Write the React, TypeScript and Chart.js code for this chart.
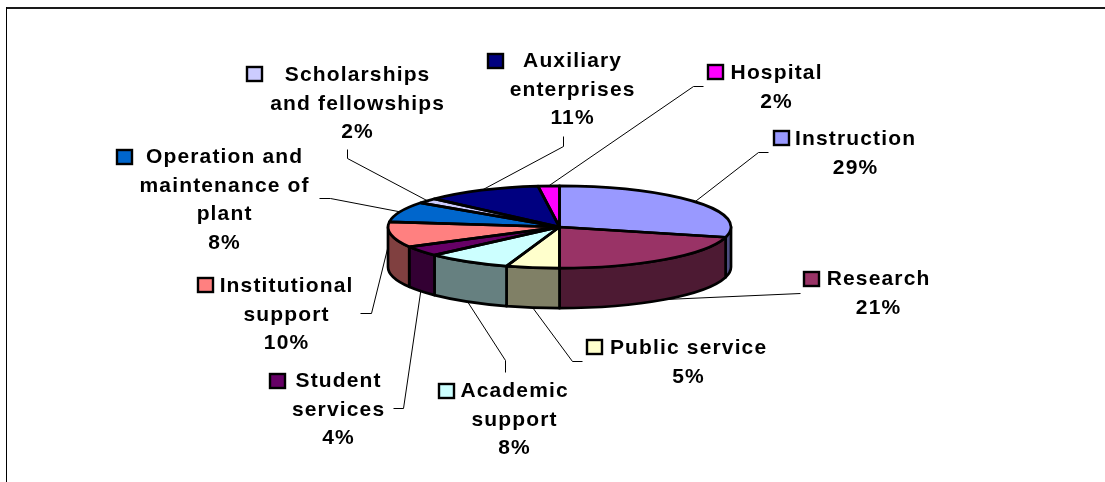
import { useEffect, useRef } from "react";
import { Chart, registerables } from "chart.js";

Chart.register(...registerables);

// Share of current fund expenditures, clockwise from twelve o'clock.
const categories = [
  "Instruction",
  "Research",
  "Public service",
  "Academic support",
  "Student services",
  "Institutional support",
  "Operation and maintenance of plant",
  "Scholarships and fellowships",
  "Auxiliary enterprises",
  "Hospital",
];
const shares = [29, 21, 5, 8, 4, 10, 8, 2, 11, 2];
const sliceColors = [
  "#9999FF", "#993366", "#FFFFCC", "#CCFFFF", "#660066",
  "#FF8080", "#0066CC", "#CCCCFF", "#000080", "#FF00FF",
];
const wallColors = [
  "#4D4D80", "#4D1A33", "#808066", "#668080", "#330033",
  "#804040", "#003366", "#666680", "#000040", "#800080",
];

// Label text broken into rows, the percentage row is appended when drawing.
const labelRows = [
  ["Instruction"],
  ["Research"],
  ["Public service"],
  ["Academic", "support"],
  ["Student", "services"],
  ["Institutional", "support"],
  ["Operation and", "maintenance of", "plant"],
  ["Scholarships", "and fellowships"],
  ["Auxiliary", "enterprises"],
  ["Hospital"],
];

// Layout of the data labels: centre x, first baseline, key box left/top.
const labelLayout = [
  { cx: 855, y: 145, keyX: 773, keyY: 130 },
  { cx: 878, y: 285, keyX: 803, keyY: 271 },
  { cx: 688, y: 354, keyX: 586, keyY: 339 },
  { cx: 514, y: 397, keyX: 438, keyY: 383 },
  { cx: 338, y: 387, keyX: 269, keyY: 373 },
  { cx: 286, y: 292, keyX: 197, keyY: 277 },
  { cx: 224, y: 163, keyX: 116, keyY: 149 },
  { cx: 357, y: 81, keyX: 246, keyY: 66 },
  { cx: 572, y: 67, keyX: 487, keyY: 53 },
  { cx: 776, y: 79, keyX: 707, keyY: 64 },
];

// Leader routing: label-side points, the last segment runs to the slice.
const leaderRoutes = [
  [[768, 152], [758, 152]],
  [[800, 293]],
  [[582, 361], [572, 361]],
  [[505, 372], [505, 360]],
  [[393, 408], [403, 408]],
  [[360, 313], [371, 313]],
  [[319, 198], [330, 198]],
  [[347, 149], [347, 158]],
  [[563, 136], [563, 146]],
  [[703, 86], [693, 86]],
];

const SQUASH = 0.24;
const DEPTH = 40;
const EDGE = 2.7;
const FONT = 'bold 21px "Liberation Sans", Arial, sans-serif';

const tiltedPie = {
  id: "tiltedPie",
  beforeDraw(chart: any) {
    const { ctx, width, height } = chart;
    ctx.save();
    ctx.fillStyle = "#FFFFFF";
    ctx.fillRect(0, 0, width, height);
    ctx.fillStyle = "#1A1A1A";
    ctx.fillRect(6, 7, width - 6, 2);
    ctx.fillStyle = "#000000";
    ctx.fillRect(6, 7, 1, height - 7);
    ctx.restore();
  },
  beforeDatasetsDraw(chart: any) {
    const { ctx } = chart;
    const arcs = chart.getDatasetMeta(0).data;
    const { x: cx, y: cy, outerRadius: r } = arcs[0];
    const ry = r * SQUASH;

    // Leader lines sit beneath the pie.
    ctx.save();
    ctx.strokeStyle = "#000000";
    ctx.lineWidth = 1;
    arcs.forEach((arc: any, i: number) => {
      const mid = (arc.startAngle + arc.endAngle) / 2;
      const onFront = Math.sin(mid) > 0.2;
      const ax = cx + r * Math.cos(mid);
      const ay = cy + ry * Math.sin(mid) + (onFront ? DEPTH : 0);
      ctx.beginPath();
      leaderRoutes[i].forEach(([px, py], k) => {
        if (k === 0) ctx.moveTo(px + 0.5, py + 0.5);
        else ctx.lineTo(px + 0.5, py + 0.5);
      });
      ctx.lineTo(ax, ay);
      ctx.stroke();
    });
    ctx.restore();

    // Side wall: only the part of each slice facing the viewer.
    ctx.save();
    ctx.lineWidth = EDGE;
    ctx.lineJoin = "round";
    ctx.strokeStyle = "#000000";
    arcs.forEach((arc: any, i: number) => {
      const a = Math.max(arc.startAngle, 0);
      const b = Math.min(arc.endAngle, Math.PI);
      if (b <= a) return;
      ctx.beginPath();
      ctx.ellipse(cx, cy, r, ry, 0, a, b);
      ctx.ellipse(cx, cy + DEPTH, r, ry, 0, b, a, true);
      ctx.closePath();
      ctx.fillStyle = wallColors[i];
      ctx.fill();
      ctx.stroke();
    });
    ctx.restore();

    // The library's arcs are flattened into the top face of the disc.
    ctx.save();
    ctx.translate(cx, cy);
    ctx.scale(1, SQUASH);
    ctx.translate(-cx, -cy);
  },
  afterDatasetsDraw(chart: any) {
    const { ctx } = chart;
    ctx.restore();

    const arcs = chart.getDatasetMeta(0).data;
    const { x: cx, y: cy, outerRadius: r } = arcs[0];
    const ry = r * SQUASH;

    // Outlines are stroked unscaled so their width stays even.
    ctx.save();
    ctx.lineWidth = EDGE;
    ctx.lineJoin = "round";
    ctx.strokeStyle = "#000000";
    arcs.forEach((arc: any) => {
      ctx.beginPath();
      ctx.moveTo(cx, cy);
      ctx.ellipse(cx, cy, r, ry, 0, arc.startAngle, arc.endAngle);
      ctx.closePath();
      ctx.stroke();
    });
    ctx.restore();

    // Data labels with a colour key in front of the first row.
    const total = shares.reduce((sum, v) => sum + v, 0);
    ctx.save();
    ctx.font = FONT;
    ctx.letterSpacing = "1.15px";
    ctx.textAlign = "center";
    ctx.textBaseline = "alphabetic";
    ctx.fillStyle = "#000000";
    categories.forEach((_, i) => {
      const spot = labelLayout[i];
      const rows = [...labelRows[i], `${Math.round((shares[i] / total) * 100)}%`];
      rows.forEach((row, k) => {
        ctx.fillText(row, spot.cx + 0.6, spot.y + k * 28.5);
      });
      ctx.fillStyle = sliceColors[i];
      ctx.fillRect(spot.keyX + 1, spot.keyY + 1, 15, 14);
      ctx.strokeStyle = "#000000";
      ctx.lineWidth = 2.4;
      ctx.strokeRect(spot.keyX + 1, spot.keyY + 1, 15, 14);
      ctx.fillStyle = "#000000";
    });
    ctx.restore();
  },
};

export default function App() {
  const canvasRef = useRef<HTMLCanvasElement>(null);

  useEffect(() => {
    document.body.style.margin = "0";
    const chart = new Chart(canvasRef.current!, {
      type: "pie",
      data: {
        labels: categories,
        datasets: [
          {
            data: shares,
            backgroundColor: sliceColors,
            borderWidth: 0,
            clip: false,
          } as any,
        ],
      },
      options: {
        responsive: false,
        animation: false,
        events: [],
        layout: { padding: { left: 388, right: 374, top: 55.5, bottom: 83.5 } },
        plugins: { legend: { display: false }, tooltip: { enabled: false } },
      },
      plugins: [tiltedPie],
    });
    return () => chart.destroy();
  }, []);

  return <canvas ref={canvasRef} width={1105} height={482} style={{ display: "block" }} />;
}
